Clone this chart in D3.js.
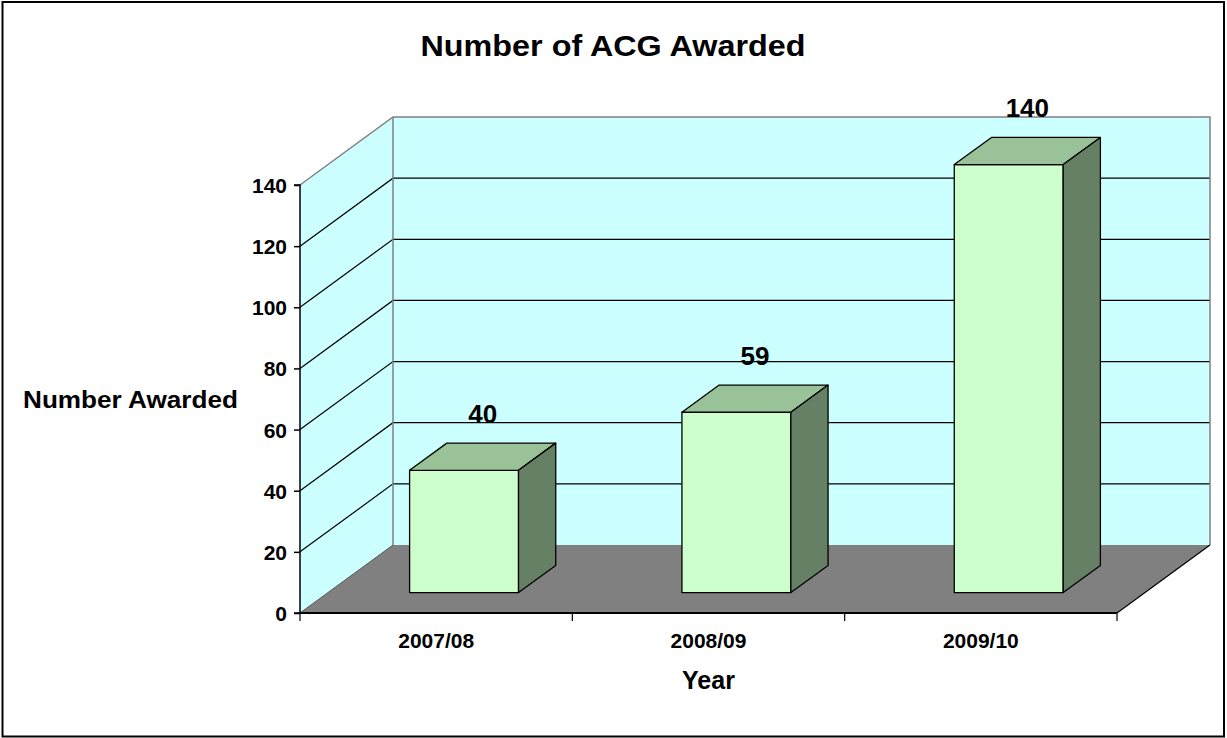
<!DOCTYPE html>
<html><head><meta charset="utf-8">
<script src="https://cdn.jsdelivr.net/npm/d3@7"></script>
<style>
html,body{margin:0;padding:0;background:#fff;}
svg text{font-family:"Liberation Sans",Arial,sans-serif;font-weight:bold;fill:#000;}
</style></head>
<body>
<svg id="chart" width="1227" height="738"></svg>
<script>
const categories = ["2007/08", "2008/09", "2009/10"];
const values = [40, 59, 140];
const yTicks = [0, 20, 40, 60, 80, 100, 120, 140];
const titleText = "Number of ACG Awarded";
const yTitle = "Number Awarded";
const xTitle = "Year";

const svg = d3.select("#chart");

// layout
const plot = {left: 300, right: 1117, bottom: 613, top: 185};
const depth = {dx: 93, dy: -68};
const x = d3.scaleBand().domain(categories).range([plot.left, plot.right]).paddingInner(0).paddingOuter(0);
const y = d3.scaleLinear().domain([0, 140]).range([plot.bottom, plot.top]);
const z = d3.scaleLinear().domain([0, 1]).range([0, 1]);
function P(xv, v, zz) { return [xv + depth.dx * z(zz), y(v) + depth.dy * z(zz)]; }
const xmin = plot.left, xmax = plot.right;
const vmax = 140;

// border
svg.append("rect").attr("x", 2.5).attr("y", 2).attr("width", 1221.5).attr("height", 734.5)
  .attr("fill", "#fff").attr("stroke", "#000").attr("stroke-width", 2);

const line = d3.line();
const poly = pts => line(pts) + "Z";

// back wall
svg.append("path").attr("d", poly([P(xmin,0,1), P(xmax,0,1), P(xmax,vmax,1), P(xmin,vmax,1)]))
  .attr("fill", "#CCFFFF").attr("stroke", "none");
// side wall
svg.append("path").attr("d", poly([P(xmin,0,0), P(xmin,0,1), P(xmin,vmax,1), P(xmin,vmax,0)]))
  .attr("fill", "#CCFFFF").attr("stroke", "none");
// floor
svg.append("path").attr("d", poly([P(xmin,0,0), P(xmax,0,0), P(xmax,0,1), P(xmin,0,1)]))
  .attr("fill", "#808080").attr("stroke", "none");

// gridlines
const grid = svg.append("g");
yTicks.filter(t => t > 0 && t < vmax).forEach(t => {
  grid.append("path").attr("d", line([P(xmin,t,0), P(xmin,t,1), P(xmax,t,1)]))
    .attr("fill", "none").attr("stroke", "#000").attr("stroke-width", 1.2);
});
// wall edges
const edges = svg.append("g").attr("fill", "none").attr("stroke", "#808080").attr("stroke-width", 1.5);
edges.append("path").attr("d", line([P(xmin,vmax,0), P(xmin,vmax,1), P(xmax,vmax,1), P(xmax,0,1)]));
edges.append("path").attr("d", line([P(xmin,0,1), P(xmin,vmax,1)]));
svg.append("path").attr("d", line([P(xmin,0,0), P(xmin,0,1)])).attr("stroke", "#555").attr("stroke-width", 1).attr("fill","none");
svg.append("path").attr("d", line([P(xmax,0,0), P(xmax,0,1)])).attr("stroke", "#000").attr("stroke-width", 1.2).attr("fill","none");

// axes (front plane)
const yAxis = d3.axisLeft(y).tickValues(yTicks).tickSize(6).tickPadding(7).tickFormat(d3.format("d"));
const gy = svg.append("g").attr("transform", `translate(${plot.left},0)`).call(yAxis);
gy.select(".domain").attr("stroke", "#000").attr("stroke-width", 1.5).attr("d", `M-6,${y(vmax)}H0V${y(0)}H-6`);
gy.selectAll(".tick line").attr("stroke", "#000").attr("stroke-width", 1.5);
gy.selectAll(".tick text").style("font-size", "21px").attr("dy", "0.36em");

const xAxis = d3.axisBottom(x).tickSize(0).tickPadding(20);
const gx = svg.append("g").attr("transform", `translate(0,${plot.bottom})`).call(xAxis);
gx.select(".domain").attr("stroke", "#000").attr("stroke-width", 1.8).attr("d", `M${xmin},0H${xmax}`);
gx.selectAll(".tick text").style("font-size", "21px").attr("dy", "0.71em");
// category boundary ticks
const bounds = categories.map(c => x(c)).concat([xmax]);
gx.selectAll("line.bound").data(bounds).enter().append("line").attr("class", "bound")
  .attr("x1", d => d).attr("x2", d => d).attr("y1", 0).attr("y2", 8)
  .attr("stroke", "#000").attr("stroke-width", 1.2);

// bars
const barW = x.bandwidth() * 0.4;
const z0 = 0.3, z1 = 0.7;
const bars = svg.append("g").attr("stroke", "#000").attr("stroke-width", 1.3).attr("stroke-linejoin", "round");
categories.forEach((c, i) => {
  const v = values[i];
  const xl = x(c) + (x.bandwidth() - barW) / 2, xr = xl + barW;
  bars.append("path").attr("d", poly([P(xl,0,z0), P(xr,0,z0), P(xr,v,z0), P(xl,v,z0)])).attr("fill", "#CCFFCC");
  bars.append("path").attr("d", poly([P(xl,v,z0), P(xr,v,z0), P(xr,v,z1), P(xl,v,z1)])).attr("fill", "#99C299");
  bars.append("path").attr("d", poly([P(xr,0,z0), P(xr,0,z1), P(xr,v,z1), P(xr,v,z0)])).attr("fill", "#668066");
});

// data labels
svg.append("g").selectAll("text").data(categories).enter().append("text")
  .attr("x", (c) => P(x(c) + x.bandwidth() / 2, 0, 0.5)[0])
  .attr("y", (c, i) => P(0, values[i], 1)[1])
  .attr("text-anchor", "middle").style("font-size", "26px")
  .text((c, i) => values[i]);

// titles
svg.append("text").attr("x", 613).attr("y", 56).attr("text-anchor", "middle").style("font-size", "30px")
  .attr("textLength", 385).attr("lengthAdjust", "spacingAndGlyphs").text(titleText);
svg.append("text").attr("x", 130.5).attr("y", 408).attr("text-anchor", "middle").style("font-size", "24px")
  .attr("textLength", 215).attr("lengthAdjust", "spacingAndGlyphs").text(yTitle);
svg.append("text").attr("x", (xmin + xmax) / 2).attr("y", 689).attr("text-anchor", "middle").style("font-size", "25px").text(xTitle);
</script>
</body></html>
